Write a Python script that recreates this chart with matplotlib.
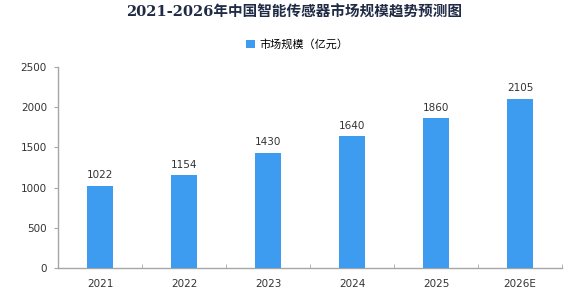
import matplotlib
matplotlib.use("Agg")
import matplotlib.pyplot as plt
import numpy as np

plt.rcParams['font.family'] = ['DejaVu Sans', 'Noto Sans CJK SC']

years = ["2021", "2022", "2023", "2024", "2025", "2026E"]
market_size = [1022, 1154, 1430, 1640, 1860, 2105]
yticks = [0, 500, 1000, 1500, 2000, 2500]

BAR = "#3D9BF0"
AXIS = "#A6A6A6"
TXT = "#333333"

fig = plt.figure(figsize=(5.83, 2.97), dpi=100)
ax = fig.add_axes([0.0995, 0.0976, 0.8645, 0.6768])

x = np.arange(len(years))
ax.bar(x, market_size, width=0.32, color=BAR, label="市场规模（亿元）", zorder=3)
for xi, v in zip(x, market_size):
    ax.text(xi, v + 70, str(v), ha="center", va="bottom", fontsize=7.5, color=TXT)

ax.set_xlim(-0.5, len(years) - 0.5)
ax.set_ylim(0, 2500)
ax.set_yticks(yticks)
ax.set_xticks(x)
ax.set_xticklabels(years)
ax.set_xticks(np.arange(-0.5, len(years)), minor=True)
ax.tick_params(axis="x", which="major", length=0, labelsize=7.5, labelcolor=TXT, pad=8)
ax.tick_params(axis="x", which="minor", length=3, color=AXIS, direction="in")
ax.tick_params(axis="y", length=3, color=AXIS, labelsize=7.5, labelcolor=TXT, pad=5)
for s in ["top", "right"]:
    ax.spines[s].set_visible(False)
for s in ["left", "bottom"]:
    ax.spines[s].set_color(AXIS)
    ax.spines[s].set_linewidth(1.0)

fig.text(0.505, 0.96, "2021-2026年中国智能传感器市场规模趋势预测图",
         ha="center", va="center", fontsize=10.5, fontweight="bold",
         color="#1F2A44", family=['DejaVu Serif', 'Noto Sans CJK SC'])
fig.legend(loc="center", bbox_to_anchor=(0.51, 0.85), frameon=False,
           fontsize=8, handlelength=0.8, handleheight=0.8, handletextpad=0.4)

fig.savefig("out.png", dpi=100)
